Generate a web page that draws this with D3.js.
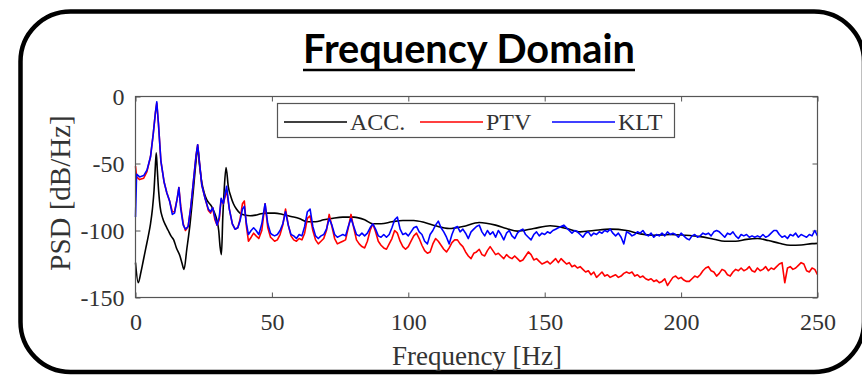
<!DOCTYPE html>
<html lang="en">

<head>
  <meta charset="UTF-8">
  <title>Frequency Domain</title>
  <script src="https://d3js.org/d3.v7.min.js"></script>
  <style>
      body {
          margin: 0;
          background: #fff;
      }

      .tick text {
          font-family: "Liberation Serif", "Times New Roman", serif;
          font-size: 24px;
          fill: #333;
      }

      .tick line {
          stroke: #555;
      }

      .series {
          fill: none;
          stroke-width: 1.6px;
          stroke-linejoin: round;
      }
  </style>
</head>

<body>
<div class="canvas"></div>
<script>
  // ACC (accelerometer) - smooth curve
  const accFreq = [0, 1.0, 2.0, 2.9, 3.8, 4.7, 5.5, 6.2, 6.8, 7.2, 7.6, 8.0, 8.5, 9.0, 10, 11, 12, 13, 14, 15, 16.3, 17, 17.8,
    18.8, 20, 21.2, 22.2, 22.8, 23.4, 24.3, 25.2, 26.1, 27.9, 29, 29.8, 30.5, 31, 31.5, 32, 32.5, 33.2, 34, 35, 35.9, 37, 38.3,
    40, 42, 44, 46, 48, 51, 54, 57, 60, 63, 66, 69, 72, 76, 80, 84, 87, 90, 94, 98, 102, 106, 110, 115, 120, 126, 132, 136,
    140, 146, 152, 158, 163, 168, 174, 180, 185, 190, 196, 201, 207, 212, 216, 220, 224, 228, 232, 236, 240, 244, 248, 250];
  const accPsd = [-124, -139, -131, -122, -113, -104, -95, -84, -70, -55, -42, -55, -71, -82, -91, -96, -100, -104, -107, -113, -119, -124, -129,
    -114, -95, -70, -48, -38, -50, -64, -72, -77, -82, -87, -92, -100, -112, -118, -90, -70, -53, -67, -75, -80, -84, -87,
    -88.5, -89, -88.5, -87.5, -87, -87, -88, -89.5, -91, -93.5, -93.5, -92, -91, -90, -90, -92, -95, -95, -93.5, -92.5, -92.5, -94, -96.5, -98.5, -97, -94, -96, -98.5,
    -100.5, -98.5, -96.5, -98.5, -101, -100, -99, -100, -102.5, -103.5, -103, -103.5, -104.6, -106.5, -108, -108, -106.6, -106, -107.5, -109.5, -111, -110.8, -109.8, -109.6];

  // PTV / KLT (camera) - detailed points below 50 Hz
  const camFreqLow = [0, 0.4, 1.5, 3, 4.2, 5.5, 6.5, 7.3, 7.8, 8.4, 9.3, 10.5, 11.5, 12.5, 13.5, 14.3, 15.3, 15.9, 16.6, 17.5,
    18.3, 19.3, 20.3, 21.3, 22.2, 22.8, 23.5, 24.3, 25.5, 26.7, 27.5, 28.3, 29.1, 29.9, 30.7, 31.4, 32.2, 33.4, 34.4, 35.5,
    36.5, 37.5, 38.3, 39.2, 39.9, 40.6, 41.4, 42.4, 43.3, 44.2, 45.2, 46.3, 47.5, 48.5, 49.5];
  const kltLow = [-90, -58, -60, -59, -55, -45, -28, -12, -4, -20, -48, -64, -72, -78, -88, -87, -76, -68, -84, -96,
    -99, -97, -82, -62, -44, -36, -50, -66, -76, -84, -86, -83, -90, -96, -90, -76, -80, -67, -84, -95,
    -99, -98, -93, -84, -82, -94, -103, -100, -98, -100, -103, -95, -80, -95, -102];
  const ptvLow = [-52, -60, -62, -61, -56, -45, -28, -12, -5, -20, -48, -64, -72, -78, -86, -86, -76, -68, -82, -95,
    -100, -97, -82, -62, -44, -36, -50, -66, -76, -85, -87, -83, -92, -96, -92, -77, -80, -70, -84, -95,
    -99, -98, -92, -80, -78, -96, -108, -105, -102, -104, -106, -100, -80, -98, -105];

  // 50 Hz .. 250 Hz, one value per Hz
  const highStart = 50;
  const kltHigh = [
    -103, -104, -103, -100, -95, -86, -96, -103, -104, -106,
    -103, -104, -97, -86, -84, -97, -104, -106, -104, -103,
    -99, -91, -96, -103, -105, -104, -103, -104, -97, -91,
    -97, -103, -104, -102, -104, -102, -98, -95, -99, -104,
    -105, -103, -105, -103, -98, -92, -90, -99, -103, -102,
    -104, -101, -98, -97, -101, -103, -108, -110, -103, -100,
    -96, -93, -98, -101, -105, -110, -103, -98, -97, -101,
    -99, -102, -106, -101, -99, -97, -96, -101, -104, -100,
    -103, -101, -105, -100, -103, -107, -102, -100, -104, -106,
    -102, -100, -99, -103, -105, -107, -103, -101, -104, -102,
    -103, -101, -102, -100, -99, -98, -97, -96, -98, -100,
    -102, -100, -101, -103, -105, -102, -101, -104, -102, -103,
    -101, -102, -100, -101, -99, -102, -104, -102, -105, -110,
    -101, -102, -104, -103, -101, -102, -100, -103, -104, -102,
    -105, -103, -104, -102, -104, -101, -103, -102, -103, -105,
    -102, -104, -106, -107, -104, -103, -105, -104, -102, -103,
    -102, -104, -101, -100, -101, -103, -105, -102, -103, -101,
    -104, -106, -103, -104, -103, -105, -104, -105, -104, -105,
    -103, -105, -104, -102, -100, -100, -103, -105, -104, -106,
    -103, -104, -102, -105, -103, -104, -105, -103, -104, -100,
    -104];
  const ptvHigh = [
    -106, -108, -107, -103, -96, -84, -96, -104, -107, -108,
    -106, -107, -102, -91, -89, -100, -107, -110, -108, -106,
    -100, -88, -97, -106, -110, -109, -108, -107, -98, -88,
    -98, -107, -110, -112, -113, -108, -100, -95, -101, -108,
    -111, -113, -114, -110, -106, -100, -102, -108, -112, -114,
    -112, -108, -104, -102, -106, -111, -115, -117, -116, -110,
    -106, -108, -111, -114, -116, -113, -109, -107, -107, -110,
    -112, -116, -119, -121, -117, -116, -114, -118, -119, -115,
    -112, -115, -118, -117, -119, -121, -118, -120, -121, -119,
    -121, -123, -122, -119, -116, -118, -122, -121, -123, -125,
    -124, -123, -125, -123, -121, -124, -121, -123, -125, -124,
    -127, -126, -128, -127, -129, -131, -130, -133, -131, -135,
    -133, -131, -134, -133, -135, -134, -133, -135, -134, -132,
    -131, -132, -131, -134, -133, -135, -134, -136, -137, -136,
    -138, -137, -139, -138, -136, -141, -138, -135, -134, -136,
    -135, -137, -138, -138, -136, -134, -135, -133, -130, -128,
    -127, -130, -131, -134, -132, -129, -130, -133, -134, -131,
    -129, -130, -128, -130, -129, -127, -130, -131, -128, -130,
    -129, -127, -130, -128, -129, -127, -125, -124, -139, -128,
    -127, -129, -128, -126, -124, -125, -130, -131, -128, -129,
    -133];

  const xTicks = [0, 50, 100, 150, 200, 250];
  const yTicks = [-150, -100, -50, 0];
  const legendNames = ['ACC.', 'PTV', 'KLT'];
  const colors = ['#000000', '#ff0000', '#0000ff'];

  const W = 862, H = 375;
  const plot = {left: 135.5, right: 817.5, top: 96.5, bottom: 297.5};

  const svg = d3.select('.canvas')
    .append('svg')
    .attr('width', W)
    .attr('height', H)

  // rounded frame
  svg.append('rect')
    .attr('x', 20.5).attr('y', 11.5)
    .attr('width', 843.5).attr('height', 360.5)
    .attr('rx', 50).attr('ry', 50)
    .attr('fill', 'none')
    .attr('stroke', '#000')
    .attr('stroke-width', 4.5)

  // title, fitted to the width in the picture
  const title = svg.append('text')
    .attr('x', 469).attr('y', 63)
    .attr('text-anchor', 'middle')
    .style('font-family', 'Lato, "Open Sans", sans-serif')
    .style('font-weight', 'bold')
    .style('font-size', '34px')
    .text('Frequency Domain')
  const tw = title.node().getComputedTextLength();
  title.style('font-size', (34 * 332 / tw) + 'px');
  svg.append('line')
    .attr('x1', 303).attr('x2', 635)
    .attr('y1', 70).attr('y2', 70)
    .attr('stroke', '#000').attr('stroke-width', 2.5)

  const x = d3.scaleLinear().domain([0, 250]).range([plot.left, plot.right]);
  const y = d3.scaleLinear().domain([-150, 0]).range([plot.bottom, plot.top]);

  const g = svg.append('g')

  // axes: ticks inward on all four sides, plain hyphen for negatives
  const fmt = d => String(d);
  g.append('g')
    .attr('transform', `translate(0,${plot.bottom})`)
    .call(d3.axisBottom(x).tickValues(xTicks).tickSize(-5).tickPadding(15).tickFormat(fmt))
    .call(a => a.select('.domain').remove())
  g.append('g')
    .attr('transform', `translate(0,${plot.top})`)
    .call(d3.axisTop(x).tickValues(xTicks).tickSize(-5).tickFormat(''))
    .call(a => a.select('.domain').remove())
  g.append('g')
    .attr('transform', `translate(${plot.left},0)`)
    .call(d3.axisLeft(y).tickValues(yTicks).tickSize(-5).tickPadding(11).tickFormat(fmt))
    .call(a => a.select('.domain').remove())
  g.append('g')
    .attr('transform', `translate(${plot.right},0)`)
    .call(d3.axisRight(y).tickValues(yTicks).tickSize(-5).tickFormat(''))
    .call(a => a.select('.domain').remove())

  // series
  const camFreq = camFreqLow.concat(kltHigh.map((v, i) => highStart + i));
  const acc = accFreq.map((f, i) => [f, accPsd[i]]);
  const ptv = camFreq.map((f, i) => [f, ptvLow.concat(ptvHigh)[i]]);
  const klt = camFreq.map((f, i) => [f, kltLow.concat(kltHigh)[i]]);

  const line = d3.line().x(d => x(d[0])).y(d => y(d[1]));
  const smooth = d3.line().x(d => x(d[0])).y(d => y(d[1])).curve(d3.curveMonotoneX);

  g.append('path').attr('class', 'series').attr('d', smooth(acc)).attr('stroke', colors[0])
  g.append('path').attr('class', 'series').attr('d', line(ptv)).attr('stroke', colors[1])
  g.append('path').attr('class', 'series').attr('d', line(klt)).attr('stroke', colors[2])

  // box
  g.append('rect')
    .attr('x', plot.left).attr('y', plot.top)
    .attr('width', plot.right - plot.left).attr('height', plot.bottom - plot.top)
    .attr('fill', 'none').attr('stroke', '#555').attr('stroke-width', 1.2)

  // axis labels
  svg.append('text')
    .attr('x', 477).attr('y', 365)
    .attr('text-anchor', 'middle')
    .style('font-family', '"Liberation Serif", serif')
    .style('font-size', '27px')
    .style('fill', '#333')
    .text('Frequency [Hz]')
  svg.append('text')
    .attr('transform', 'translate(70,193) rotate(-90)')
    .attr('text-anchor', 'middle')
    .style('font-family', '"Liberation Serif", serif')
    .style('font-size', '29px')
    .style('fill', '#333')
    .text('PSD [dB/Hz]')

  // legend
  const legend = svg.append('g')
  legend.append('rect')
    .attr('x', 277.5).attr('y', 103.5)
    .attr('width', 397).attr('height', 34)
    .attr('fill', '#fff').attr('stroke', '#555').attr('stroke-width', 1.2)
  const legendX = [284, 420, 552];
  legendNames.forEach((name, i) => {
    legend.append('line')
      .attr('x1', legendX[i]).attr('x2', legendX[i] + 63)
      .attr('y1', 122).attr('y2', 122)
      .attr('stroke', colors[i]).attr('stroke-width', 1.4)
    legend.append('text')
      .attr('x', legendX[i] + 66).attr('y', 129.5)
      .style('font-family', '"Liberation Serif", serif')
      .style('font-size', '24px')
      .style('fill', '#333')
      .text(name)
  })
</script>
</body>

</html>
